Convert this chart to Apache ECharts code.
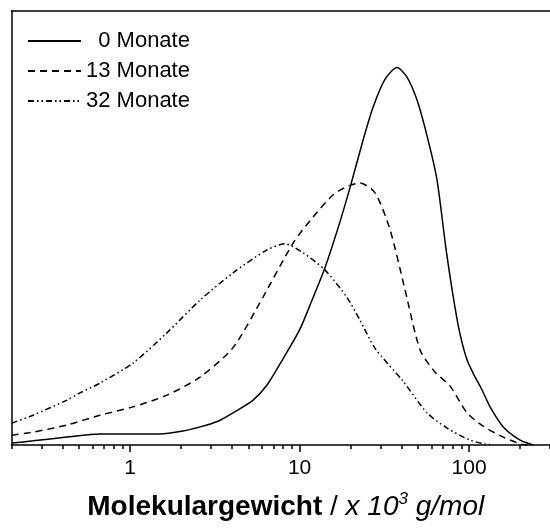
<!DOCTYPE html>
<html><head><meta charset="utf-8">
<script src="https://cdn.jsdelivr.net/npm/echarts@6/dist/echarts.min.js"></script>
<style>html,body{margin:0;padding:0;background:#fff}#c{width:550px;height:532px}</style>
</head><body><div id="c"></div>
<script>
// Molecular weight (x 10^3 g/mol) and detector signal (arbitrary units, peak of 0 Monate ~ 100)
const seriesNames = ['  0 Monate', '13 Monate', '32 Monate'];
const majorTicks = [1, 10, 100];
const minorTicks = [0.2,0.3,0.4,0.5,0.6,0.7,0.8,0.9,2,3,4,5,6,7,8,9,20,30,40,50,60,70,80,90,200,300];

const m0 = [[0.201,0.5],[0.268,1.1],[0.425,2.1],[0.665,2.9],[1.04,2.9],[1.5,2.9],[2.05,3.7],[2.59,4.8],[3.3,6.3],[4.05,8.5],[5.32,11.9],[6.43,15.9],[7.67,21.5],[10,30.5],[11.85,38.4],[14.1,46.9],[17,58],[19.9,68.4],[23.7,80.8],[27.2,89.6],[32,97],[37.6,100],[43,97.5],[49.3,91.4],[57.3,80.8],[64.7,70.2],[73.2,51.7],[79.4,41.1],[87.3,30.5],[97.3,22.5],[108.5,18.0],[117.7,15.1],[133,10.1],[159,4.8],[200,1.3],[239,0]];
const m13 = [[0.201,2.6],[0.268,3.4],[0.425,5.3],[0.665,7.9],[1.04,10.1],[1.65,13.2],[2.59,18.0],[4.05,25.8],[6.09,39.2],[9.16,53.5],[12.0,60.4],[15.8,66.3],[19.3,68.6],[22.7,69.4],[27.9,66.8],[34.2,57.0],[41.9,41.1],[51.4,25.2],[63,19.3],[77.3,15.6],[97.3,8.5],[121,5.0],[159,2.1],[200,0.3],[220,0]];
const m32 = [[0.201,5.8],[0.268,7.9],[0.425,11.9],[0.507,13.8],[0.665,16.4],[1.04,21.7],[1.65,29.7],[2.59,38.4],[4.05,45.6],[6.43,51.7],[8.21,53.3],[10.5,50.9],[14.1,46.4],[19.1,39.0],[22.7,33.1],[27.9,25.6],[40.3,17.2],[56.5,8.5],[74.1,4.5],[101,1.3],[124,0.3],[140,0]];

const chart = echarts.init(document.getElementById('c'));
const font = 'Liberation Sans, Arial, sans-serif';
const lineW = 1.5;
function mkSeries(name, data, type) {
  return {
    name, type: 'line', data, xAxisIndex: 0, yAxisIndex: 0,
    symbol: 'none', smooth: 0.25, silent: true,
    itemStyle: { color: '#000' },
    lineStyle: { color: '#000', width: lineW, type }
  };
}
chart.setOption({
  animation: false,
  backgroundColor: '#fff',
  grid: { left: 11.5, right: 0, top: 11, bottom: 87, containLabel: false },
  legend: {
    orient: 'vertical', left: 27, top: 30, padding: 0, itemWidth: 53, itemHeight: 14, itemGap: 8,
    itemStyle: { opacity: 0 },
    textStyle: { fontFamily: font, fontSize: 22, color: '#000' },
    data: seriesNames
  },
  xAxis: [
    {
      type: 'log', min: 0.2, max: 300, position: 'bottom',
      axisLine: { show: true, lineStyle: { color: '#000', width: lineW } },
      axisTick: { show: true, inside: false, length: 7, customValues: majorTicks, lineStyle: { color: '#000', width: lineW } },
      axisLabel: { show: true, margin: 13, customValues: majorTicks, fontFamily: font, fontSize: 21, color: '#000' },
      splitLine: { show: false }, minorTick: { show: false },
      name: '{b|Molekulargewicht} {n|/} {i|x 10}{s|3}{i| g/mol}',
      nameLocation: 'middle', nameGap: 46,
      nameTextStyle: {
        fontFamily: font, fontSize: 28, color: '#000', padding: [0, 0, 0, 10],
        rich: {
          b: { fontFamily: font, fontSize: 28, fontWeight: 'bold', color: '#000' },
          n: { fontFamily: font, fontSize: 28, color: '#000' },
          i: { fontFamily: font, fontSize: 28, fontStyle: 'italic', color: '#000' },
          s: { fontFamily: font, fontSize: 17, fontStyle: 'italic', color: '#000', padding: [0, 0, 15, 0] }
        }
      }
    },
    {
      type: 'log', min: 0.2, max: 300, position: 'bottom',
      axisLine: { show: false },
      axisTick: { show: true, inside: false, length: 4, customValues: minorTicks, lineStyle: { color: '#000', width: lineW } },
      axisLabel: { show: false }, splitLine: { show: false }
    },
    {
      type: 'log', min: 0.2, max: 300, position: 'top',
      axisLine: { show: true, lineStyle: { color: '#000', width: lineW } },
      axisTick: { show: false }, axisLabel: { show: false }, splitLine: { show: false }
    }
  ],
  yAxis: {
    type: 'value', min: 0, max: 115,
    axisLine: { show: true, lineStyle: { color: '#000', width: lineW } },
    axisTick: { show: false }, axisLabel: { show: false }, splitLine: { show: false }
  },
  series: [
    mkSeries(seriesNames[0], m0, 'solid'),
    mkSeries(seriesNames[1], m13, [7, 5]),
    mkSeries(seriesNames[2], m32, [6, 3, 1.5, 3, 1.5, 3])
  ]
});
</script></body></html>
